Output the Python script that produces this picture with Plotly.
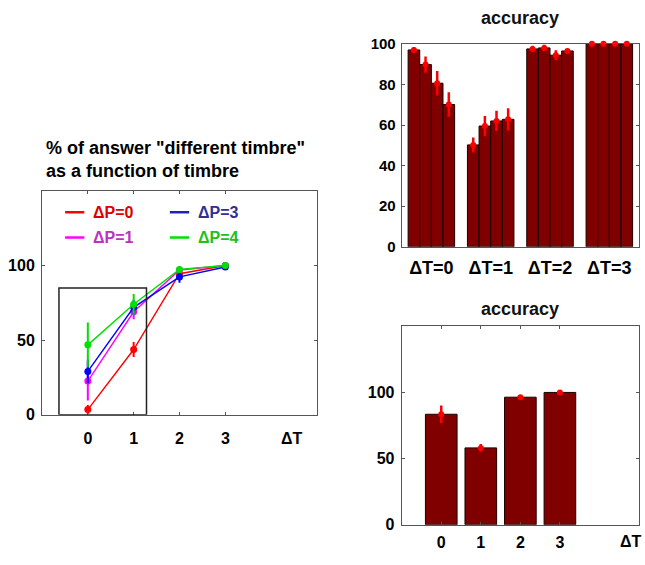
import plotly.graph_objects as go

# ---- data ----
dT = [0, 1, 2, 3]

# % of "different timbre" answers per pitch difference
pct_dP0 = [3.4, 43.7, 94.5, 100]
err_dP0 = [3, 5, 2, 1]
pct_dP1 = [22.5, 69, 97, 100]
err_dP1 = [13, 5, 2, 1]
pct_dP3 = [29, 72, 92.4, 99]
err_dP3 = [8, 5, 4, 1]
pct_dP4 = [46.8, 74, 97.4, 100]
err_dP4 = [15, 7, 2, 1]

# accuracy per timbre difference (4 bars per group)
group_labels = ["ΔT=0", "ΔT=1", "ΔT=2", "ΔT=3"]
acc_bar1 = [97, 50.2, 97.5, 100]
acc_bar2 = [89.8, 59.5, 98, 100]
acc_bar3 = [80.6, 62, 94.4, 100]
acc_bar4 = [70.1, 62.8, 96.5, 100]
acc_err1 = [1.5, 3.7, 1.5, 0.5]
acc_err2 = [4, 5, 1.5, 0.5]
acc_err3 = [6, 5, 2.4, 0.5]
acc_err4 = [6, 5.5, 1, 0.5]

# mean accuracy per timbre difference
acc_mean = [83.5, 58.1, 96.4, 100]
acc_mean_err = [6.7, 3, 1.5, 1]

BAR = "#800000"
ERR = "#ff0000"
FONT = "Liberation Sans, Arial, sans-serif"

fig = go.Figure()

# ---- left: line chart ----
series = [
    ("ΔP=0", pct_dP0, err_dP0, "#ff0000"),
    ("ΔP=1", pct_dP1, err_dP1, "#ff00ff"),
    ("ΔP=3", pct_dP3, err_dP3, "#0000ff"),
    ("ΔP=4", pct_dP4, err_dP4, "#00e000"),
]
for name, vals, errs, col in series:
    fig.add_trace(go.Scatter(
        x=dT, y=vals, name=name, mode="lines+markers",
        line=dict(color=col, width=1.4),
        marker=dict(color=col, size=7),
        error_y=dict(type="data", array=errs, color=col, thickness=2, width=0),
        xaxis="x", yaxis="y", showlegend=False,
    ))

# ---- top right: grouped bars ----
w = 0.196
group_pos = [i + 1 for i in range(len(group_labels))]
bars = [(acc_bar1, acc_err1), (acc_bar2, acc_err2),
        (acc_bar3, acc_err3), (acc_bar4, acc_err4)]
for k, (vals, errs) in enumerate(bars):
    xs = [g + (k - 1.5) * w for g in group_pos]
    fig.add_trace(go.Bar(
        x=xs, y=vals, width=w,
        marker=dict(color=BAR, line=dict(color="#1a0000", width=1)),
        xaxis="x2", yaxis="y2", showlegend=False,
    ))
    fig.add_trace(go.Scatter(
        x=xs, y=vals, mode="markers",
        marker=dict(color=ERR, size=6),
        error_y=dict(type="data", array=errs, color=ERR, thickness=2.5, width=0),
        xaxis="x2", yaxis="y2", showlegend=False, cliponaxis=False,
    ))

# ---- bottom right: mean accuracy ----
fig.add_trace(go.Bar(
    x=dT, y=acc_mean, width=0.8,
    marker=dict(color=BAR, line=dict(color="#1a0000", width=1)),
    xaxis="x3", yaxis="y3", showlegend=False,
))
fig.add_trace(go.Scatter(
    x=dT, y=acc_mean, mode="markers",
    marker=dict(color=ERR, size=6),
    error_y=dict(type="data", array=acc_mean_err, color=ERR, thickness=2.5, width=0),
    xaxis="x3", yaxis="y3", showlegend=False, cliponaxis=False,
))

tickfont = dict(family=FONT, size=16, color="black", weight="bold")
ax_common = dict(showgrid=False, zeroline=False, showline=True, linecolor="#555",
                 linewidth=1, mirror="allticks", ticks="inside", ticklen=3,
                 tickcolor="#555", tickfont=tickfont)

fig.update_layout(
    width=645, height=565,
    margin=dict(l=0, r=0, t=0, b=0),
    paper_bgcolor="white", plot_bgcolor="white",
    barmode="overlay",
    xaxis=dict(domain=[0.0651, 0.4915], range=[-1, 5], tickvals=dT,
               anchor="y", ticklabelstandoff=9, **ax_common),
    yaxis=dict(domain=[0.2584, 0.6673], range=[0, 150], tickvals=[0, 50, 100],
               anchor="x", ticklabelstandoff=3, **ax_common),
    xaxis2=dict(domain=[0.6228, 0.9907], range=[0.5, 4.5], tickvals=group_pos,
                ticktext=group_labels, anchor="y2", ticklabelstandoff=5,
                **{**ax_common, "ticks": "", "tickfont": dict(tickfont, size=18)}),
    yaxis2=dict(domain=[0.5653, 0.9363], range=[0, 100],
                tickvals=[0, 20, 40, 60, 80, 100], anchor="x2", ticklabelstandoff=2,
                **{**ax_common, "tickfont": dict(tickfont, size=15)}),
    xaxis3=dict(domain=[0.6228, 0.9907], range=[-1, 5], tickvals=dT,
                anchor="y3", ticklabelstandoff=3, **ax_common),
    yaxis3=dict(domain=[0.0571, 0.42], range=[0, 150], tickvals=[0, 50, 100],
                anchor="x3", ticklabelstandoff=3, **ax_common),
)

annotations = [
    dict(text="% of answer \"different timbre\"<br>as a function of timbre",
         x=44 / 645, y=1 - 131 / 565, xref="paper", yref="paper",
         xanchor="left", yanchor="top", align="left", showarrow=False,
         font=dict(family=FONT, size=18, color="black", weight="bold")),
    dict(text="accuracy", x=0.806, y=1 - 9 / 565, xref="paper", yref="paper",
         xanchor="center", yanchor="middle", showarrow=False,
         font=dict(family=FONT, size=18, color="#111", weight="bold")),
    dict(text="accuracy", x=0.806, y=1 - 310 / 565, xref="paper", yref="paper",
         xanchor="center", yanchor="middle", showarrow=False,
         font=dict(family=FONT, size=18, color="#111", weight="bold")),
    dict(text="ΔT", x=4.45, y=1 - 444 / 565, xref="x", yref="paper",
         xanchor="center", yanchor="middle", showarrow=False, font=tickfont),
    dict(text="ΔT", x=4.8, y=1 - 550 / 565, xref="x3", yref="paper",
         xanchor="center", yanchor="middle", showarrow=False, font=tickfont),
]

# legend drawn inside the line chart
legend_items = [
    ("ΔP=0", "#ff0000", "#dd0000", 0.084, 0.905),
    ("ΔP=3", "#2020c0", "#303090", 0.465, 0.905),
    ("ΔP=1", "#ff00ff", "#c030c0", 0.084, 0.792),
    ("ΔP=4", "#00e000", "#20c020", 0.465, 0.792),
]
shapes = []
for name, lcol, tcol, lx, ly in legend_items:
    shapes.append(dict(type="line", xref="x domain", yref="y domain",
                       x0=lx, x1=lx + 0.07, y0=ly, y1=ly,
                       line=dict(color=lcol, width=2.5)))
    annotations.append(dict(text=name, x=lx + 0.095, y=ly, xref="x domain",
                            yref="y domain", xanchor="left", yanchor="middle",
                            showarrow=False,
                            font=dict(family=FONT, size=16, color=tcol, weight="bold")))

# highlight box around the low timbre differences
shapes.append(dict(type="rect", xref="x", yref="y", x0=-0.63, x1=1.28, y0=0, y1=85,
                   line=dict(color="#222", width=1.5)))

fig.update_layout(annotations=annotations, shapes=shapes)

fig.write_html("out.html")
